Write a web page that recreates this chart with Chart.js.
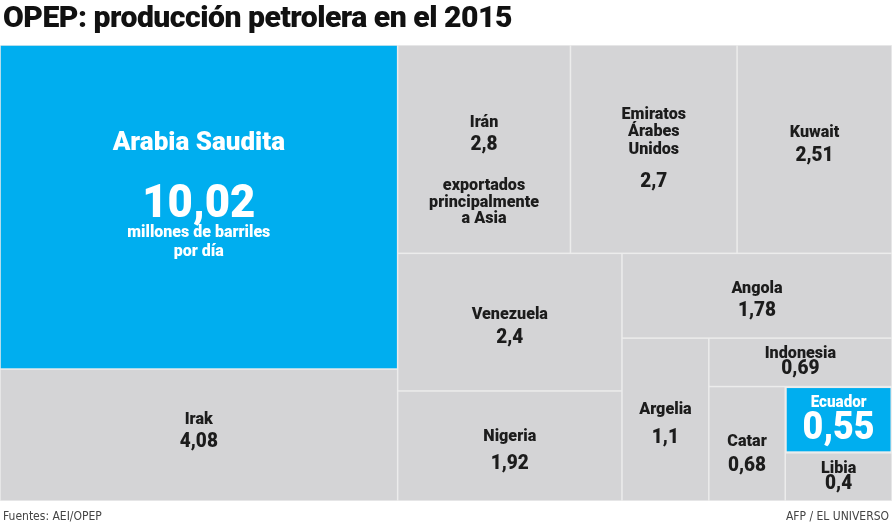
<!DOCTYPE html>
<html lang="es">
<head>
<meta charset="utf-8">
<script src="https://cdn.jsdelivr.net/npm/chart.js@4.4.1/dist/chart.umd.min.js"></script>
<style>
  html, body { margin: 0; padding: 0; background: #ffffff; }
  #wrap { position: relative; width: 892px; height: 529px; overflow: hidden; }
  #title { position: absolute; left: 3px; top: -1px; font-family: Roboto, "DejaVu Sans", sans-serif; font-weight: 900; font-size: 30px; color: #111; white-space: nowrap; transform-origin: 0 0; letter-spacing: -0.5px; }
  #src, #credit { position: absolute; top: 509px; font-family: "DejaVu Sans Condensed", Roboto, sans-serif; font-size: 12px; color: #444; white-space: nowrap; }
  #src { left: 3px; }
  #credit { right: 3px; }
  canvas { position: absolute; left: 0; top: 0; }
</style>
</head>
<body>
<div id="wrap">
  <canvas id="c" width="892" height="529"></canvas>
  <div id="title">OPEP: producción petrolera en el 2015</div>
  <div id="src">Fuentes: AEI/OPEP</div>
  <div id="credit">AFP / EL UNIVERSO</div>
</div>
<script>
// ---- data ----
const countries = ['Arabia Saudita', 'Irak', 'Irán', 'Emiratos Árabes Unidos', 'Kuwait', 'Venezuela', 'Nigeria', 'Angola', 'Argelia', 'Indonesia', 'Catar', 'Ecuador', 'Libia'];
const production = [10.02, 4.08, 2.8, 2.7, 2.51, 2.4, 1.92, 1.78, 1.1, 0.69, 0.68, 0.55, 0.4];
const highlighted = ['Arabia Saudita', 'Ecuador'];
const unitText = ['millones de barriles', 'por día'];
const iranNote = ['exportados', 'principalmente', 'a Asia'];

// treemap strip structure (direction, number of items in the strip)
const strips = [['col', 2], ['row', 3], ['col', 2], ['row', 1], ['col', 1], ['row', 1], ['col', 1], ['col', 2]];

function fmt(v) { return String(v).replace('.', ','); }

// fit title width
(function () {
  const t = document.getElementById('title');
  const w = t.getBoundingClientRect().width;
  t.style.transform = 'scaleX(' + (509 / w) + ')';
})();

// ---- layout in data units (x: 0..1, y: 0..1) ----
function layout() {
  const cells = [];
  let x0 = 0, y0 = 0, x1 = 1, y1 = 1;
  let remaining = production.reduce((a, b) => a + b, 0);
  let idx = 0;
  strips.forEach(([dir, n]) => {
    const vals = production.slice(idx, idx + n);
    const s = vals.reduce((a, b) => a + b, 0);
    if (dir === 'col') {
      const w = (x1 - x0) * s / remaining;
      let yy = y0;
      vals.forEach((v, k) => {
        const h = (y1 - y0) * v / s;
        cells.push({ i: idx + k, x0: x0, x1: x0 + w, y0: yy, y1: yy + h });
        yy += h;
      });
      x0 += w;
    } else {
      const h = (y1 - y0) * s / remaining;
      let xx = x0;
      vals.forEach((v, k) => {
        const w = (x1 - x0) * v / s;
        cells.push({ i: idx + k, x0: xx, x1: xx + w, y0: y0, y1: y0 + h });
        xx += w;
      });
      y0 += h;
    }
    remaining -= s;
    idx += n;
  });
  return cells;
}
const cells = layout();

const FONT = 'Roboto, "DejaVu Sans", sans-serif';
const BLUE = '#00aeef';
const GRAY = '#d4d4d6';

// label styling: s = font size, g = gap before line, k = horizontal squeeze, shift = vertical nudge of block
function labelSpec(i) {
  const name = countries[i];
  const val = fmt(production[i]);
  switch (name) {
    case 'Arabia Saudita':
      return { shift: -12, lines: [
        { t: name, s: 26, g: 0, k: 1 },
        { t: val, s: 46, g: 22, k: 0.95 },
        { t: unitText[0], s: 16, g: -6, k: 1 },
        { t: unitText[1], s: 16, g: 1, k: 1 }] };
    case 'Irán':
      return { shift: 22, lines: [
        { t: name, s: 17, g: 0 },
        { t: val, s: 20, g: 2 },
        { t: iranNote[0], s: 17, g: 20 },
        { t: iranNote[1], s: 17, g: -2 },
        { t: iranNote[2], s: 17, g: -2 }] };
    case 'Emiratos Árabes Unidos': {
      const p = name.split(' ');
      return { shift: 0, lines: [
        { t: p[0], s: 17, g: 0 },
        { t: p[1], s: 17, g: -1 },
        { t: p[2], s: 17, g: -1 },
        { t: val, s: 20, g: 12 }] };
    }
    case 'Ecuador':
      return { shift: 3, lines: [
        { t: name, s: 16, g: 0 },
        { t: val, s: 39, g: -4, k: 0.92 }] };
    case 'Libia':
    case 'Indonesia':
      return { shift: 0, lines: [
        { t: name, s: 17, g: 0 },
        { t: val, s: 20, g: -5 }] };
    default: {
      const shifts = { 'Kuwait': -4, 'Venezuela': 5, 'Angola': 5, 'Catar': 11, 'Argelia': 5, 'Nigeria': 5, 'Irak': -3 };
      const gaps = { 'Argelia': 8, 'Nigeria': 7, 'Catar': 4, 'Venezuela': 3 };
      return { shift: shifts[name] || 0, lines: [
        { t: name, s: 17, g: 0 },
        { t: val, s: 20, g: gaps[name] !== undefined ? gaps[name] : 2 }] };
    }
  }
}

const treemapPlugin = {
  id: 'treemap',
  beforeDatasetsDraw(chart) {
    const { ctx, scales: { x, y } } = chart;
    ctx.save();
    cells.forEach(c => {
      const px0 = x.getPixelForValue(c.x0), px1 = x.getPixelForValue(c.x1);
      const py0 = y.getPixelForValue(c.y0), py1 = y.getPixelForValue(c.y1);
      const hl = highlighted.includes(countries[c.i]);
      ctx.fillStyle = hl ? BLUE : GRAY;
      const inset = countries[c.i] === 'Ecuador' ? 1.5 : 0.75;
      ctx.fillRect(px0 + inset, py0 + inset, px1 - px0 - 2 * inset, py1 - py0 - 2 * inset);
    });
    cells.forEach(c => {
      const px0 = x.getPixelForValue(c.x0), px1 = x.getPixelForValue(c.x1);
      const py0 = y.getPixelForValue(c.y0), py1 = y.getPixelForValue(c.y1);
      const hl = highlighted.includes(countries[c.i]);
      const spec = labelSpec(c.i);
      let total = 0;
      spec.lines.forEach(l => { total += l.g + l.s * 1.1; });
      let cy = (py0 + py1) / 2 - total / 2 + spec.shift;
      const cx = (px0 + px1) / 2;
      ctx.fillStyle = hl ? '#ffffff' : '#1c1c1c';
      ctx.textAlign = 'center';
      ctx.textBaseline = 'middle';
      spec.lines.forEach(l => {
        cy += l.g;
        ctx.font = '900 ' + l.s + 'px ' + FONT;
        ctx.save();
        ctx.translate(cx, cy + l.s * 0.55);
        ctx.scale(l.k !== undefined ? l.k : 0.95, 1);
        ctx.fillText(l.t, 0, 0);
        ctx.restore();
        cy += l.s * 1.1;
      });
    });
    ctx.restore();
  }
};

new Chart(document.getElementById('c'), {
  type: 'scatter',
  data: {
    datasets: [{
      label: 'Producción (millones de barriles por día)',
      data: cells.map(c => ({ x: (c.x0 + c.x1) / 2, y: (c.y0 + c.y1) / 2, v: production[c.i], n: countries[c.i] })),
      pointRadius: 0,
      pointHoverRadius: 0
    }]
  },
  options: {
    responsive: false,
    animation: false,
    layout: { padding: { top: 45, bottom: 28, left: 0, right: 0 } },
    scales: {
      x: { type: 'linear', min: 0, max: 1, display: false },
      y: { type: 'linear', min: 0, max: 1, reverse: true, display: false }
    },
    plugins: {
      legend: { display: false },
      tooltip: {
        callbacks: { label: (item) => item.raw.n + ': ' + fmt(item.raw.v) }
      }
    }
  },
  plugins: [{
    id: 'bg',
    beforeDraw(chart) {
      const { ctx, chartArea: a } = chart;
      ctx.save();
      ctx.fillStyle = '#ececec';
      ctx.fillRect(a.left, a.top, a.right - a.left, a.bottom - a.top);
      ctx.restore();
    }
  }, treemapPlugin]
});
</script>
</body>
</html>
